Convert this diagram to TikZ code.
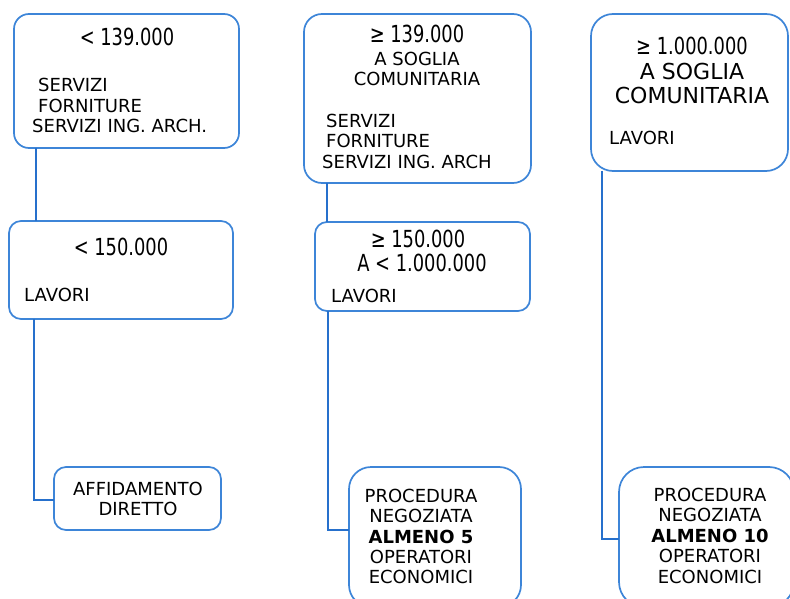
\documentclass[tikz,border=0pt]{standalone}
\usepackage{fontspec}
\setmainfont{DejaVu Sans}
\newfontfamily\numfont[FakeStretch=0.76]{DejaVu Sans}
\definecolor{boxblue}{HTML}{3D85D8}
\definecolor{lineblue}{HTML}{2670CC}
\begin{document}
\begin{tikzpicture}[x=1pt,y=-1pt,
  box/.style={draw=boxblue,line width=1.7pt,anchor=north west,inner sep=0pt,outer sep=0pt,fill=white},
  conn/.style={draw=lineblue,line width=2.5pt},
  sm/.style={inner sep=0pt,anchor=base,font=\fontsize{18}{21}\selectfont},
  smL/.style={sm,anchor=base west},
  big/.style={inner sep=0pt,anchor=base,font=\fontsize{22}{26}\selectfont},
  num/.style={inner sep=0pt,anchor=base,font=\numfont\fontsize{23.5}{27}\selectfont}]
\useasboundingbox (0,0) rectangle (790,599);
% boxes
\node[box,rounded corners=15pt,minimum width=225pt,minimum height=134pt] (b1) at (14,14) {};
\node[box,rounded corners=12pt,minimum width=224pt,minimum height=98pt] (b2) at (9,221) {};
\node[box,rounded corners=18pt,minimum width=227pt,minimum height=169pt] (b3) at (304,14) {};
\node[box,rounded corners=12pt,minimum width=215pt,minimum height=89pt] (b4) at (315,222) {};
\node[box,rounded corners=22pt,minimum width=197pt,minimum height=157pt] (b5) at (591,14) {};
\node[box,rounded corners=12pt,minimum width=167pt,minimum height=63pt] (aff) at (54,467) {};
\node[box,rounded corners=22pt,minimum width=172pt,minimum height=140pt] (p5) at (349,467) {};
\node[box,rounded corners=25pt,minimum width=175pt,minimum height=140pt] (p10) at (619,467) {};
% connectors
\draw[conn] ([xshift=22pt]b1.south west) -- ([xshift=22pt]b1.south west |- b2.north);
\draw[conn] ([xshift=25pt]b2.south west) |- ([yshift=-33pt]aff.north west);
\draw[conn] ([xshift=23pt]b3.south west) -- ([xshift=23pt]b3.south west |- b4.north);
\draw[conn] ([xshift=13pt]b4.south west) |- ([yshift=-63pt]p5.north west);
\draw[conn] ([xshift=11pt]b5.south west) |- ([yshift=-72pt]p10.north west);
% texts box 1
\node[num] (t1a) at (127,46) {< 139.000};
\node[smL] (t1b) at (38,92) {SERVIZI};
\node[smL] (t1c) at (38,113) {FORNITURE};
\node[smL] (t1d) at (32,133) {SERVIZI ING. ARCH.};
% box 2
\node[num] (t2a) at (121,255) {< 150.000};
\node[smL] (t2b) at (24,301) {LAVORI};
% box 3
\node[num] (t3a) at (417,43) {≥ 139.000};
\node[sm] (t3b) at (417,66) {A SOGLIA};
\node[sm] (t3c) at (417,86) {COMUNITARIA};
\node[smL] (t3d) at (326,128) {SERVIZI};
\node[smL] (t3e) at (326,148) {FORNITURE};
\node[smL] (t3f) at (322,168) {SERVIZI ING. ARCH};
% box 4
\node[num] (t4a) at (418,247) {≥ 150.000};
\node[num] (t4b) at (422,271) {A < 1.000.000};
\node[smL] (t4c) at (331,302) {LAVORI};
% box 5
\node[num] (t5a) at (692,55) {≥ 1.000.000};
\node[big] (t5b) at (692,80) {A SOGLIA};
\node[big] (t5c) at (692,104) {COMUNITARIA};
\node[smL] (t5d) at (609,145) {LAVORI};
% affidamento
\node[sm] (t6a) at (138,495) {AFFIDAMENTO};
\node[sm] (t6b) at (138,515) {DIRETTO};
% procedura 5
\node[sm] (t7a) at (421,502) {PROCEDURA};
\node[sm] (t7b) at (421,522) {NEGOZIATA};
\node[sm] (t7c) at (421,543) {\textbf{ALMENO 5}};
\node[sm] (t7d) at (421,563) {OPERATORI};
\node[sm] (t7e) at (421,583) {ECONOMICI};
% procedura 10
\node[sm] (t8a) at (710,501) {PROCEDURA};
\node[sm] (t8b) at (710,521) {NEGOZIATA};
\node[sm] (t8c) at (710,542) {\textbf{ALMENO 10}};
\node[sm] (t8d) at (710,562) {OPERATORI};
\node[sm] (t8e) at (710,583) {ECONOMICI};
\end{tikzpicture}
\end{document}
